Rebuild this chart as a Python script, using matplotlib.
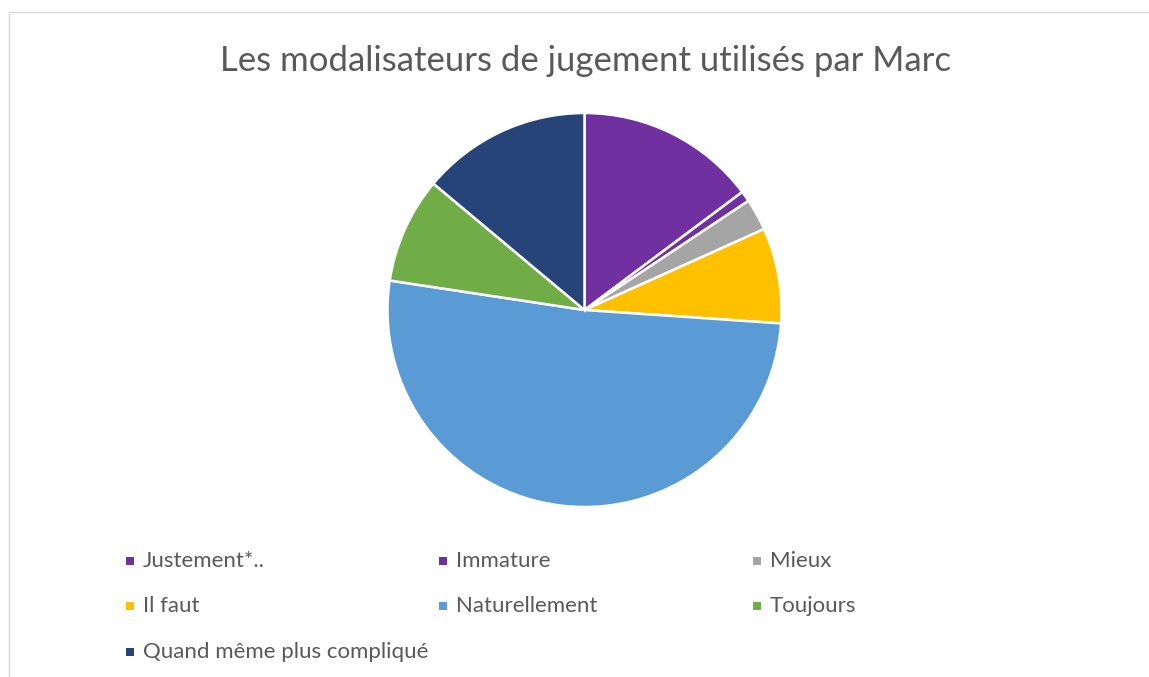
import matplotlib.pyplot as plt
from matplotlib.patches import Rectangle

# data
labels = ["Justement*..", "Immature", "Mieux", "Il faut",
          "Naturellement", "Toujours", "Quand même plus compliqué"]
counts = [17, 1, 3, 9, 59, 10, 16]
colors = ["#7030A0", "#7030A0", "#A5A5A5", "#FFC000",
          "#5B9BD5", "#70AD47", "#264478"]
title = "Les modalisateurs de jugement utilisés par Marc"

W, H = 1149, 677
fig = plt.figure(figsize=(W / 100, H / 100), dpi=100)
fig.patch.set_facecolor("white")

# chart border (light gray frame, partly cropped)
fig.patches.append(Rectangle((9 / W, -0.01), 1.2, (H - 12) / H + 0.01,
                             transform=fig.transFigure, fill=False,
                             edgecolor="#D9D9D9", linewidth=1.0))

cx, cy, r = 584.5, H - 310, 197
ax = fig.add_axes([(cx - r) / W, (cy - r) / H, 2 * r / W, 2 * r / H])
ax.pie(counts, colors=colors, startangle=90, counterclock=False, radius=1,
       wedgeprops=dict(edgecolor="white", linewidth=1.8))
ax.set_xlim(-1.0, 1.0)
ax.set_ylim(-1.0, 1.0)
ax.set_aspect("equal")
ax.axis("off")

fig.text(585 / W, 1 - 61 / H, title, ha="center", va="center",
         fontsize=25, color="#595959", family="Lato")

# legend, three columns like the Excel layout
col_x = [126, 439, 753]
row_y = [561, 606, 652]
sq = 8
for i, (lab, col) in enumerate(zip(labels, colors)):
    x = col_x[i % 3]
    y = row_y[i // 3]
    fig.patches.append(Rectangle((x / W, (H - y - sq / 2) / H), sq / W, sq / H,
                                 transform=fig.transFigure,
                                 facecolor=col, edgecolor="none"))
    fig.text((x + 17) / W, (H - y) / H, lab, ha="left", va="center",
             fontsize=16, color="#595959", family="Lato")

fig.savefig("out.png", dpi=100)
